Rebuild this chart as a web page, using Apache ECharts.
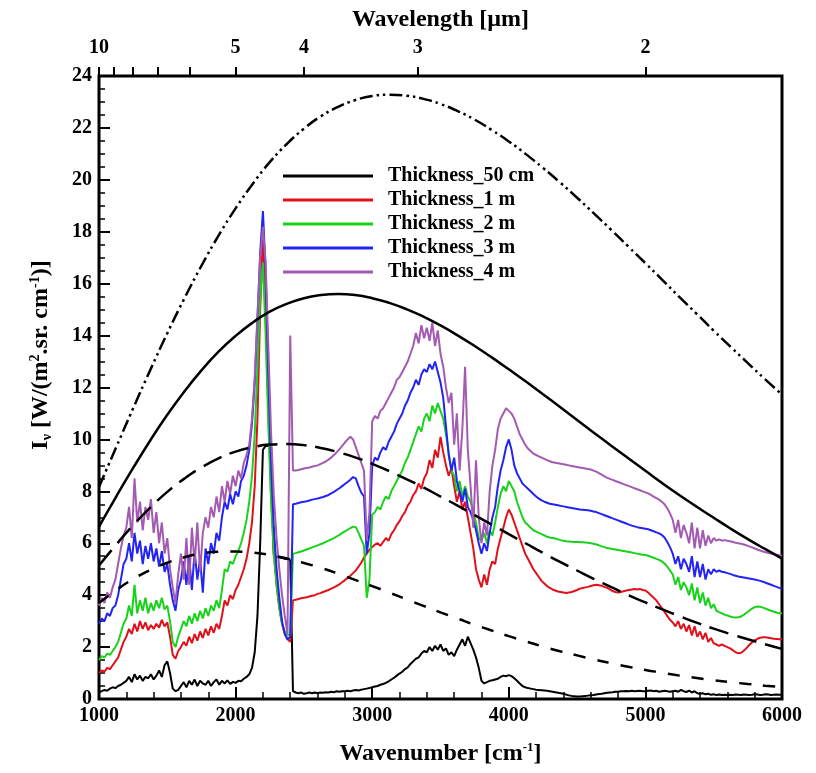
<!DOCTYPE html>
<html>
<head>
<meta charset="utf-8">
<script src="https://cdn.jsdelivr.net/npm/echarts@6.0.0/dist/echarts.min.js"></script>
<style>
  html, body { margin: 0; padding: 0; background: #ffffff; }
  #chart { width: 816px; height: 773px; }
</style>
</head>
<body>
<div id="chart"></div>
<script>
// Spectral sampling grid for the gas-layer spectra [cm^-1]
const wavenumber = [
  1000,1020,1040,1060,1080,1100,1120,1140,1160,1180,
  1200,1220,1240,1260,1280,1300,1320,1340,1360,1380,
  1400,1420,1440,1460,1480,1500,1520,1540,1560,1580,
  1600,1620,1640,1660,1680,1700,1720,1740,1760,1780,
  1800,1820,1840,1860,1880,1900,1920,1940,1960,1980,
  2000,2020,2040,2060,2080,2100,2120,2140,2160,2180,
  2200,2220,2240,2260,2280,2300,2320,2340,2360,2380,
  2400,2420,2440,2460,2480,2500,2520,2540,2560,2580,
  2600,2620,2640,2660,2680,2700,2720,2740,2760,2780,
  2800,2820,2840,2860,2880,2900,2920,2940,2960,2980,
  3000,3020,3040,3060,3080,3100,3120,3140,3160,3180,
  3200,3220,3240,3260,3280,3300,3320,3340,3360,3380,
  3400,3420,3440,3460,3480,3500,3520,3540,3560,3580,
  3600,3620,3640,3660,3680,3700,3720,3740,3760,3780,
  3800,3820,3840,3860,3880,3900,3920,3940,3960,3980,
  4000,4020,4040,4060,4080,4100,4120,4140,4160,4180,
  4200,4220,4240,4260,4280,4300,4320,4340,4360,4380,
  4400,4420,4440,4460,4480,4500,4520,4540,4560,4580,
  4600,4620,4640,4660,4680,4700,4720,4740,4760,4780,
  4800,4820,4840,4860,4880,4900,4920,4940,4960,4980,
  5000,5020,5040,5060,5080,5100,5120,5140,5160,5180,
  5200,5220,5240,5260,5280,5300,5320,5340,5360,5380,
  5400,5420,5440,5460,5480,5500,5520,5540,5560,5580,
  5600,5620,5640,5660,5680,5700,5720,5740,5760,5780,
  5800,5820,5840,5860,5880,5900,5920,5940,5960,5980,
  6000
];

// Spectral intensity I_nu [W/(m2.sr.cm-1)] for each layer thickness
const thick50cm = [
  0.25,0.30,0.35,0.32,0.40,0.45,0.42,0.50,0.55,0.62,
  0.70,0.85,0.65,0.95,0.75,0.90,0.70,0.85,0.80,0.95,
  0.75,0.90,1.10,0.85,1.30,1.45,1.00,0.40,0.30,0.35,
  0.50,0.65,0.45,0.70,0.55,0.75,0.50,0.70,0.60,0.55,
  0.70,0.50,0.65,0.75,0.55,0.70,0.60,0.72,0.58,0.66,
  0.62,0.70,0.68,0.78,0.85,0.95,1.20,1.80,3.20,6.00,
  9.60,9.75,9.75,9.70,5.50,5.48,5.45,5.43,5.40,5.38,
  5.35,0.30,0.25,0.22,0.25,0.20,0.22,0.25,0.22,0.25,
  0.22,0.25,0.24,0.26,0.25,0.28,0.26,0.30,0.28,0.30,
  0.30,0.32,0.30,0.33,0.35,0.33,0.36,0.38,0.40,0.42,
  0.45,0.48,0.50,0.55,0.58,0.62,0.68,0.75,0.82,0.90,
  0.98,1.05,1.15,1.22,1.35,1.45,1.55,1.60,1.75,1.85,
  1.80,2.00,1.85,2.05,1.90,2.10,1.85,1.95,1.70,1.80,
  1.65,1.90,2.10,2.30,2.05,2.40,2.15,1.90,1.60,1.20,
  0.70,0.60,0.65,0.70,0.72,0.75,0.78,0.85,0.90,0.88,
  0.92,0.88,0.80,0.70,0.60,0.50,0.45,0.42,0.40,0.38,
  0.36,0.35,0.34,0.33,0.32,0.30,0.28,0.26,0.24,0.22,
  0.20,0.17,0.14,0.12,0.11,0.10,0.10,0.11,0.12,0.13,
  0.14,0.15,0.17,0.19,0.20,0.22,0.24,0.25,0.26,0.28,
  0.28,0.30,0.30,0.31,0.30,0.32,0.30,0.31,0.32,0.30,
  0.30,0.32,0.33,0.30,0.32,0.28,0.30,0.32,0.30,0.28,
  0.30,0.32,0.28,0.35,0.30,0.27,0.32,0.25,0.30,0.22,
  0.20,0.22,0.18,0.20,0.16,0.18,0.15,0.17,0.15,0.16,
  0.15,0.16,0.15,0.17,0.16,0.15,0.17,0.16,0.15,0.16,
  0.18,0.17,0.15,0.16,0.18,0.17,0.15,0.16,0.17,0.16,
  0.16
];

const thick1m = [
  1.00,1.10,1.05,1.20,1.15,1.30,1.45,1.60,1.90,2.20,
  2.40,2.70,2.50,2.90,2.60,3.00,2.70,2.95,2.65,2.85,
  2.70,2.90,2.75,3.05,2.80,2.95,2.40,1.70,1.55,1.85,
  2.00,2.20,2.05,2.40,2.15,2.50,2.25,2.60,2.35,2.70,
  2.45,2.80,2.55,2.90,2.70,3.20,3.80,3.60,4.00,3.85,
  4.20,4.40,4.70,5.00,5.40,6.00,6.80,8.20,10.80,15.00,
  18.00,15.00,11.00,7.80,5.60,4.40,3.50,2.90,2.50,2.30,
  2.20,3.80,3.82,3.85,3.88,3.90,3.92,3.95,3.98,4.00,
  4.05,4.08,4.12,4.16,4.20,4.25,4.30,4.36,4.42,4.50,
  4.58,4.66,4.75,4.85,4.95,5.10,5.25,5.45,5.60,5.75,
  5.85,5.95,6.00,5.90,6.05,6.20,6.10,6.35,6.50,6.70,
  6.85,7.05,7.20,7.45,7.60,7.85,8.00,8.30,8.10,8.50,
  8.70,9.20,8.90,9.60,9.30,10.10,9.50,9.00,8.60,8.90,
  8.20,7.60,8.00,7.30,7.60,7.00,6.40,5.80,5.00,4.60,
  4.30,4.80,4.40,5.00,5.30,5.20,5.80,6.20,6.60,7.00,
  7.30,7.10,6.80,6.50,6.20,5.90,5.60,5.40,5.20,5.00,
  4.85,4.70,4.55,4.45,4.35,4.28,4.22,4.18,4.14,4.12,
  4.10,4.08,4.10,4.12,4.16,4.20,4.25,4.28,4.30,4.32,
  4.35,4.38,4.40,4.38,4.36,4.32,4.28,4.22,4.16,4.12,
  4.10,4.12,4.15,4.18,4.20,4.22,4.24,4.22,4.24,4.20,
  4.18,4.10,4.00,3.90,3.80,3.65,3.50,3.35,3.20,3.05,
  2.95,2.80,3.00,2.70,2.90,2.60,2.85,2.45,2.80,2.40,
  2.60,2.30,2.55,2.20,2.35,2.15,2.10,2.05,2.10,2.05,
  2.00,1.95,1.88,1.80,1.76,1.78,1.86,1.96,2.08,2.18,
  2.26,2.32,2.36,2.38,2.38,2.36,2.34,2.32,2.31,2.30,
  2.30
];

const thick2m = [
  1.50,1.65,1.60,1.75,1.70,1.85,2.00,2.20,2.55,2.90,
  3.10,3.60,3.20,4.40,3.30,3.80,3.40,3.90,3.30,3.70,
  3.40,3.80,3.50,3.90,3.45,3.60,3.00,2.20,2.00,2.40,
  2.70,3.00,2.80,3.20,2.90,3.30,3.00,3.40,3.10,3.50,
  3.20,3.60,3.40,3.80,3.50,4.20,5.00,4.90,5.30,5.20,
  5.50,5.70,6.00,6.40,6.90,7.60,8.60,10.20,12.80,15.50,
  16.80,14.00,10.50,7.60,5.60,4.40,3.50,2.90,2.60,2.45,
  2.50,5.60,5.62,5.65,5.68,5.72,5.76,5.80,5.84,5.88,
  5.92,5.96,6.00,6.05,6.10,6.15,6.20,6.26,6.32,6.40,
  6.46,6.52,6.58,6.64,6.62,6.40,6.15,5.90,3.90,4.60,
  7.10,7.20,7.40,7.30,7.60,7.80,7.70,8.00,8.20,8.40,
  8.60,8.80,9.10,9.30,9.60,9.90,10.20,10.50,10.30,10.80,
  11.00,10.70,11.30,11.00,11.40,11.10,10.80,10.20,9.50,8.80,
  8.60,8.00,8.40,7.80,8.20,7.80,7.60,7.20,6.80,6.20,
  6.10,6.40,6.00,6.50,6.30,6.80,7.40,7.90,8.20,8.00,
  8.40,8.20,8.00,7.60,7.30,7.00,6.80,6.70,6.60,6.50,
  6.45,6.40,6.35,6.30,6.25,6.22,6.20,6.18,6.15,6.12,
  6.10,6.08,6.07,6.06,6.05,6.05,6.04,6.04,6.03,6.02,
  6.00,5.98,5.95,5.92,5.88,5.85,5.82,5.80,5.78,5.76,
  5.74,5.72,5.70,5.68,5.66,5.64,5.62,5.60,5.58,5.56,
  5.55,5.52,5.48,5.44,5.40,5.36,5.30,5.22,5.10,4.95,
  4.80,4.40,4.70,4.20,4.50,4.30,4.00,4.45,3.80,4.30,
  3.70,4.10,3.60,3.90,3.50,3.65,3.40,3.35,3.30,3.25,
  3.22,3.18,3.15,3.14,3.15,3.18,3.24,3.32,3.40,3.48,
  3.54,3.56,3.55,3.52,3.48,3.44,3.40,3.36,3.33,3.30,
  3.30
];

const thick3m = [
  2.90,3.10,3.00,3.30,3.20,3.50,3.60,4.00,4.60,5.20,
  5.40,6.00,5.30,6.40,5.60,6.10,5.20,5.90,5.40,6.00,
  5.30,5.80,5.10,5.70,4.90,5.20,4.40,3.80,3.40,4.20,
  4.60,5.30,4.40,5.50,4.20,5.70,4.60,5.40,4.10,5.80,
  5.20,6.00,5.60,6.40,6.10,7.00,7.60,7.30,7.90,7.50,
  8.00,7.80,8.40,8.60,9.00,9.60,10.60,12.20,14.60,17.20,
  18.80,16.50,12.50,9.00,6.60,5.00,3.90,3.00,2.50,2.30,
  2.40,7.50,7.52,7.55,7.58,7.60,7.62,7.65,7.68,7.70,
  7.72,7.75,7.78,7.82,7.86,7.92,7.98,8.05,8.12,8.20,
  8.28,8.36,8.45,8.55,8.50,8.20,7.95,7.80,5.60,6.40,
  9.00,9.30,9.20,9.50,9.70,9.60,9.90,10.10,10.30,10.60,
  10.80,11.00,11.30,11.50,11.80,12.00,12.30,12.10,12.50,12.70,
  12.60,12.90,12.70,13.00,12.60,12.20,11.60,10.50,9.40,8.80,
  9.30,8.40,8.00,7.60,8.10,7.40,7.20,6.90,6.50,6.00,
  5.60,6.00,5.70,6.40,7.00,7.40,8.20,8.80,9.20,9.70,
  10.00,9.60,9.00,8.70,8.50,8.30,8.20,8.10,8.00,7.90,
  7.80,7.72,7.65,7.60,7.56,7.52,7.50,7.48,7.46,7.44,
  7.42,7.40,7.38,7.36,7.34,7.32,7.30,7.29,7.28,7.27,
  7.25,7.22,7.20,7.16,7.12,7.08,7.04,7.00,6.96,6.92,
  6.88,6.84,6.80,6.76,6.72,6.68,6.65,6.62,6.60,6.58,
  6.56,6.54,6.50,6.46,6.42,6.38,6.32,6.22,6.05,5.85,
  5.60,5.20,5.50,5.00,5.40,5.20,4.90,5.50,4.70,5.30,
  4.70,5.20,4.60,5.00,4.80,5.00,4.90,4.95,4.90,4.88,
  4.85,4.82,4.78,4.75,4.72,4.70,4.68,4.66,4.64,4.62,
  4.60,4.58,4.55,4.52,4.48,4.44,4.40,4.36,4.32,4.28,
  4.25
];

const thick4m = [
  3.60,3.90,3.70,4.10,3.90,4.30,4.60,5.20,5.80,6.30,
  6.60,7.40,6.20,8.50,6.80,7.60,6.50,7.40,6.90,7.70,
  6.40,7.20,6.00,6.80,5.60,6.20,5.00,4.30,3.70,4.80,
  5.60,4.60,6.20,4.40,6.60,5.20,6.80,4.90,6.40,7.00,
  6.60,7.40,7.00,7.80,7.20,8.20,7.60,8.40,7.90,8.60,
  8.20,8.80,8.50,9.10,9.40,9.80,10.80,12.40,14.80,17.00,
  18.20,16.80,13.50,10.20,7.80,6.20,5.00,4.00,3.20,2.50,
  14.00,8.80,8.80,8.82,8.85,8.88,8.90,8.92,8.95,8.98,
  9.00,9.05,9.10,9.15,9.22,9.30,9.40,9.50,9.62,9.75,
  9.88,10.00,10.10,10.00,9.70,9.40,9.10,8.80,6.10,7.20,
  10.70,10.90,10.80,11.10,11.20,11.40,11.60,11.80,12.00,12.30,
  12.40,12.60,12.80,13.00,13.30,13.60,14.10,13.70,14.40,13.90,
  14.30,13.80,14.50,13.60,14.20,13.30,12.80,12.00,11.40,11.80,
  9.80,11.00,8.80,10.40,12.80,9.60,8.20,6.60,9.20,7.00,
  6.00,6.80,6.30,8.00,9.00,9.60,10.40,10.80,11.00,11.20,
  11.10,11.00,10.80,10.50,10.20,10.00,9.80,9.65,9.55,9.45,
  9.40,9.35,9.30,9.25,9.20,9.16,9.12,9.10,9.08,9.06,
  9.04,9.02,9.00,8.98,8.96,8.94,8.92,8.90,8.88,8.86,
  8.84,8.80,8.76,8.70,8.64,8.58,8.52,8.48,8.44,8.40,
  8.36,8.32,8.28,8.24,8.20,8.16,8.12,8.08,8.04,8.00,
  7.96,7.92,7.86,7.80,7.74,7.68,7.60,7.50,7.35,7.15,
  6.90,6.40,6.90,6.20,6.70,6.40,6.00,6.80,5.80,6.60,
  5.80,6.50,5.90,6.30,6.00,6.20,6.10,6.15,6.10,6.12,
  6.10,6.08,6.05,6.02,6.00,5.98,5.95,5.92,5.88,5.84,
  5.80,5.76,5.72,5.68,5.65,5.62,5.60,5.58,5.56,5.54,
  5.52
];

// Blackbody reference curves, sampled every 125 cm^-1
const planckWavenumber = [1000,1125,1250,1375,1500,1625,1750,1875,2000,2125,2250,2375,2500,2625,
                          2750,2875,3000,3125,3250,3375,3500,3625,3750,3875,4000,4125,4250,4375,
                          4500,4625,4750,4875,5000,5125,5250,5375,5500,5625,5750,5875,6000];
const planck1600K = [8.17,9.69,11.20,12.67,14.09,15.43,16.69,17.85,18.90,19.84,20.68,21.38,21.97,22.45,
                     22.81,23.07,23.23,23.28,23.24,23.12,22.92,22.65,22.32,21.92,21.48,20.99,20.46,19.90,
                     19.31,18.70,18.07,17.43,16.79,16.14,15.48,14.84,14.19,13.56,12.94,12.32,11.73];
const planck1400K = [6.64,7.79,8.90,9.96,10.95,11.85,12.66,13.38,13.99,14.50,14.92,15.22,15.44,15.56,
                     15.60,15.56,15.44,15.26,15.02,14.73,14.39,14.01,13.60,13.16,12.70,12.23,11.74,11.25,
                     10.75,10.25,9.76,9.27,8.79,8.31,7.85,7.41,6.98,6.56,6.16,5.78,5.41];
const planck1200K = [5.14,5.94,6.69,7.37,7.98,8.49,8.92,9.27,9.53,9.70,9.80,9.82,9.78,9.67,
                     9.51,9.31,9.06,8.78,8.47,8.15,7.80,7.45,7.08,6.72,6.35,5.99,5.63,5.28,
                     4.95,4.62,4.31,4.00,3.72,3.45,3.19,2.94,2.71,2.50,2.30,2.11,1.93];
const planck1000K = [3.70,4.19,4.62,4.97,5.25,5.46,5.60,5.67,5.68,5.64,5.55,5.41,5.24,5.05,
                     4.83,4.59,4.35,4.10,3.84,3.59,3.34,3.10,2.86,2.64,2.42,2.22,2.02,1.84,
                     1.68,1.52,1.38,1.24,1.12,1.01,0.90,0.81,0.725,0.648,0.578,0.515,0.458];

// Secondary (top) axis: wavelength in micrometres
const wavelengthTicks = [10, 9, 8, 7, 6, 5, 4, 3, 2];
const wavelengthLabels = [10, 5, 4, 3, 2];

const legendNames = ['Thickness_50 cm', 'Thickness_1 m', 'Thickness_2 m', 'Thickness_3 m', 'Thickness_4 m'];
const legendColors = ['#000000', '#e0111a', '#19d21c', '#2323f5', '#a35bb2'];
const thicknessSeries = [thick50cm, thick1m, thick2m, thick3m, thick4m];

const SERIF = "'Liberation Serif', 'Times New Roman', serif";

function pairs(xs, ys) { return xs.map((x, i) => [x, ys[i]]); }

const chart = echarts.init(document.getElementById('chart'), null, { renderer: 'canvas' });

const series = thicknessSeries.map((vals, k) => ({
  name: legendNames[k],
  type: 'line',
  data: pairs(wavenumber, vals),
  showSymbol: false,
  color: legendColors[k],
  lineStyle: { width: 2, color: legendColors[k] },
  z: 2 + k,
  animation: false
}));

const planckDefs = [
  { name: 'Blackbody 1600 K', vals: planck1600K, type: [13, 4, 2.5, 4, 2.5, 4] },
  { name: 'Blackbody 1400 K', vals: planck1400K, type: 'solid' },
  { name: 'Blackbody 1200 K', vals: planck1200K, type: [20, 9] },
  { name: 'Blackbody 1000 K', vals: planck1000K, type: [12, 12] }
];
planckDefs.forEach(p => series.push({
  name: p.name,
  type: 'line',
  data: pairs(planckWavenumber, p.vals),
  smooth: true,
  showSymbol: false,
  color: '#000',
  lineStyle: { width: 2.5, color: '#000', type: p.type },
  z: 10,
  animation: false
}));

const labelStyle = { fontFamily: SERIF, fontWeight: 'bold', fontSize: 20, color: '#000' };

const option = {
  backgroundColor: '#ffffff',
  animation: false,
  grid: {
    left: 99, right: 34, top: 76, bottom: 74,
    show: true, borderColor: '#000', borderWidth: 3, backgroundColor: 'transparent'
  },
  legend: {
    data: legendNames,
    orient: 'vertical',
    left: 283, top: 166,
    padding: 0,
    itemWidth: 90, itemHeight: 3, itemGap: 4,
    icon: 'rect',
    selectedMode: false,
    textStyle: { fontFamily: SERIF, fontWeight: 'bold', fontSize: 20, lineHeight: 19, color: '#000', padding: [0, 0, 0, 10] }
  },
  xAxis: [
    {
      type: 'value', position: 'bottom', min: 1000, max: 6000, interval: 1000,
      axisLine: { show: false },
      axisTick: { show: true, inside: true, length: 12, lineStyle: { color: '#000', width: 2 } },
      minorTick: { show: true, splitNumber: 5, length: 7, lineStyle: { color: '#000', width: 1.5 } },
      splitLine: { show: false },
      axisLabel: Object.assign({ margin: 7, formatter: v => String(v) }, labelStyle),
      name: '{t|Wavenumber [cm}{s|-1}{t|]}',
      nameLocation: 'middle', nameGap: 42,
      nameTextStyle: {
        rich: {
          t: { fontFamily: SERIF, fontWeight: 'bold', fontSize: 24, color: '#000', lineHeight: 26 },
          s: { fontFamily: SERIF, fontWeight: 'bold', fontSize: 13, color: '#000', verticalAlign: 'top', lineHeight: 26, padding: [0, 0, 10, 0] }
        }
      }
    },
    {
      type: 'value', position: 'top', min: 1000, max: 6000,
      axisLine: { show: false },
      axisTick: { show: true, inside: false, length: 9, lineStyle: { color: '#000', width: 2 },
                  customValues: wavelengthTicks.map(w => 10000 / w) },
      splitLine: { show: false },
      axisLabel: Object.assign({
        margin: 18,
        customValues: wavelengthLabels.map(w => 10000 / w),
        formatter: v => String(Math.round(10000 / v))
      }, labelStyle),
      name: 'Wavelength [µm]',
      nameLocation: 'middle', nameGap: 44,
      nameTextStyle: { fontFamily: SERIF, fontWeight: 'bold', fontSize: 24, color: '#000' }
    }
  ],
  yAxis: {
    type: 'value', min: 0, max: 24, interval: 2,
    axisLine: { show: false },
    axisTick: { show: true, inside: true, length: 11, lineStyle: { color: '#000', width: 2 } },
    minorTick: { show: true, splitNumber: 4, length: 6, lineStyle: { color: '#000', width: 1.5 } },
    splitLine: { show: false },
    axisLabel: Object.assign({ margin: 7 }, labelStyle)
  },
  graphic: [
    {
      type: 'text',
      x: 41, y: 355,
      rotation: Math.PI / 2,
      style: {
        text: '{b|I}{u|ν}{b| [W/(m}{p|2}{b|.sr. cm}{p|-1}{b|)]}',
        align: 'center', verticalAlign: 'middle',
        rich: {
          b: { fontFamily: SERIF, fontWeight: 'bold', fontSize: 24, fill: '#000', lineHeight: 26 },
          u: { fontFamily: SERIF, fontWeight: 'bold', fontSize: 14, fill: '#000', verticalAlign: 'bottom', lineHeight: 26, padding: [8, 0, 0, 0] },
          p: { fontFamily: SERIF, fontWeight: 'bold', fontSize: 14, fill: '#000', verticalAlign: 'top', lineHeight: 26, padding: [0, 0, 10, 0] }
        }
      }
    }
  ],
  series: series
};

chart.setOption(option);
</script>
</body>
</html>
